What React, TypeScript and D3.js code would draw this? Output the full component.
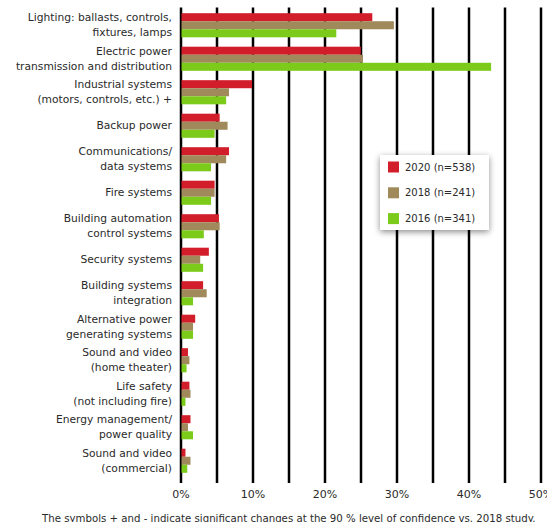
import React from "react";
import * as d3 from "d3";

const categories: string[][] = [
  ["Lighting: ballasts, controls,", "fixtures, lamps"],
  ["Electric power", "transmission and distribution"],
  ["Industrial systems", "(motors, controls, etc.) +"],
  ["Backup power"],
  ["Communications/", "data systems"],
  ["Fire systems"],
  ["Building automation", "control systems"],
  ["Security systems"],
  ["Building systems", "integration"],
  ["Alternative power", "generating systems"],
  ["Sound and video", "(home theater)"],
  ["Life safety", "(not including fire)"],
  ["Energy management/", "power quality"],
  ["Sound and video", "(commercial)"],
];

const series = ["2020 (n=538)", "2018 (n=241)", "2016 (n=341)"];
const colors = ["#d21e2b", "#a08a5c", "#7ccb1b"];

const values2020 = [26.5, 24.9, 9.8, 5.3, 6.6, 4.6, 5.2, 3.8, 3.0, 1.9, 0.9, 1.1, 1.25, 0.55];
const values2018 = [29.5, 25.2, 6.6, 6.4, 6.2, 4.6, 5.3, 2.6, 3.5, 1.6, 1.1, 1.25, 0.9, 1.25];
const values2016 = [21.5, 43.0, 6.2, 4.6, 4.1, 4.1, 3.1, 3.0, 1.6, 1.6, 0.7, 0.55, 1.6, 0.8];

const gridTicks = [0, 5, 10, 15, 20, 25, 30, 35, 40, 45, 50];
const labelTicks = [0, 10, 20, 30, 40, 50];

const footnote =
  "The symbols + and - indicate significant changes at the 90 % level of confidence vs. 2018 study.";

const FONT = "'DejaVu Sans', 'Open Sans', sans-serif";

export default function App() {
  const W = 547;
  const H = 522;
  const x = d3.scaleLinear().domain([0, 50]).range([181, 541]);
  const idx = categories.map((_, i) => String(i));
  const y = d3.scaleBand<string>().domain(idx).range([8.5, 477.5]).paddingInner(0.28).paddingOuter(0.14);
  const inner = d3.scaleBand<number>().domain([0, 1, 2]).range([0, y.bandwidth()]);
  const allValues = [values2020, values2018, values2016];

  return (
    <svg
      width={W}
      height={H}
      style={{ position: "absolute", left: 0, top: 0, background: "#fff" }}
      fontFamily={FONT}
    >
      <defs>
        <filter id="shadow" x="-20%" y="-20%" width="140%" height="150%">
          <feDropShadow dx="0" dy="2" stdDeviation="3" floodColor="#000" floodOpacity="0.45" />
        </filter>
      </defs>
      {gridTicks.map((t) => (
        <line key={t} x1={x(t)} x2={x(t)} y1={7.5} y2={483} stroke="#000" strokeWidth={2.5} />
      ))}
      {categories.map((lines, i) => {
        const y0 = y(String(i))!;
        const cy = y0 + y.bandwidth() / 2;
        return (
          <g key={i}>
            {allValues.map((vals, s) => (
              <rect
                key={s}
                x={x(0) + 0.5}
                y={y0 + inner(s)!}
                width={x(vals[i]) - x(0)}
                height={inner.bandwidth()}
                fill={colors[s]}
              />
            ))}
            {lines.map((ln, k) => (
              <text
                key={k}
                x={172}
                y={cy + (k - (lines.length - 1) / 2) * 15}
                textAnchor="end"
                dominantBaseline="central"
                fontSize={10.7}
                fill="#2a2a2a"
              >
                {ln}
              </text>
            ))}
          </g>
        );
      })}
      {labelTicks.map((t) => (
        <text
          key={t}
          x={x(t)}
          y={494}
          textAnchor="middle"
          dominantBaseline="central"
          fontSize={11}
          fill="#2a2a2a"
        >
          {t}%
        </text>
      ))}
      <g>
        <rect x={380} y={155} width={109} height={75} fill="#fff" filter="url(#shadow)" />
        {series.map((s, i) => (
          <g key={s} transform={`translate(388, ${167 + i * 25.8})`}>
            <rect x={0} y={-5.5} width={11} height={11} fill={colors[i]} />
            <text x={17} y={0} dominantBaseline="central" fontSize={10} fill="#2a2a2a">
              {s}
            </text>
          </g>
        ))}
      </g>
      <text x={42} y={518} dominantBaseline="central" fontSize={10.2} fill="#2a2a2a">
        {footnote}
      </text>
    </svg>
  );
}
